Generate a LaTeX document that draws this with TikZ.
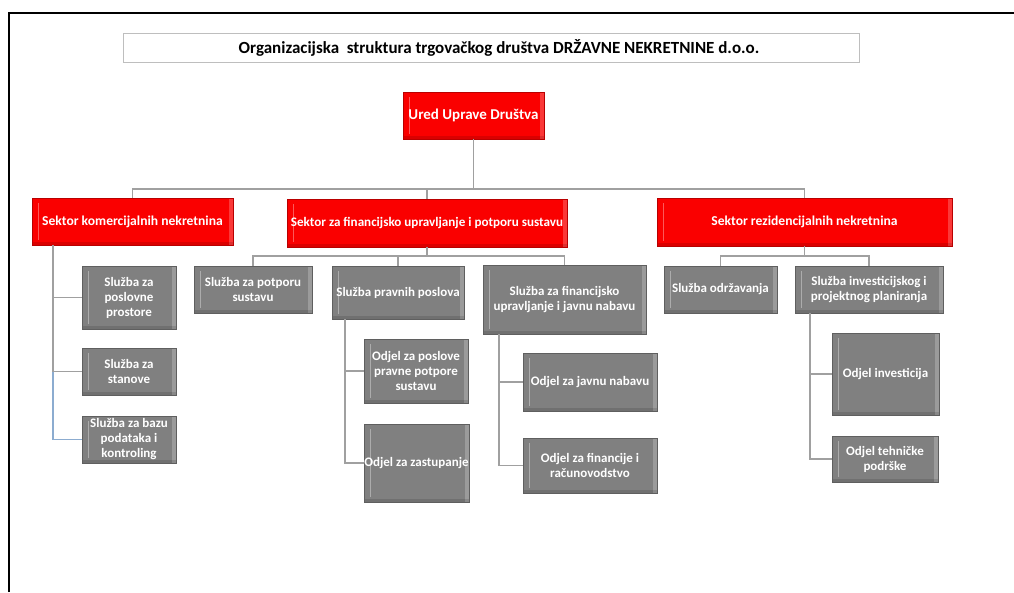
\documentclass[tikz,border=0pt]{standalone}
\usepackage{fontspec}
\setmainfont{Carlito}
\definecolor{boxgray}{RGB}{128,128,128}
\definecolor{boxedge}{RGB}{95,95,95}
\definecolor{boxred}{RGB}{250,0,0}
\definecolor{rededge}{RGB}{185,0,0}
\definecolor{conncol}{RGB}{160,160,160}
\definecolor{connblue}{RGB}{140,172,208}
\definecolor{titleedge}{RGB}{190,190,190}
\begin{document}
\begin{tikzpicture}[x=1pt,y=-1pt,
  bevel/.style={path picture={
    \draw[white,opacity=.35,line width=1pt]
      ([xshift=6pt,yshift=-5pt]path picture bounding box.north west) --
      ([xshift=6pt,yshift=5pt]path picture bounding box.south west);
    \fill[white,opacity=.22]
      ([xshift=-4pt]path picture bounding box.north east) rectangle
      (path picture bounding box.south east);
    \fill[black,opacity=.12]
      ([yshift=3pt]path picture bounding box.south west) rectangle
      (path picture bounding box.south east);
  }},
  graybox/.style={bevel,draw=boxedge,fill=boxgray,line width=0.8pt,inner sep=0pt,
    text=white,align=center,font=\bfseries\fontsize{13}{15}\selectfont},
  redbox/.style={bevel,draw=rededge,fill=boxred,line width=0.8pt,inner sep=0pt,
    text=white,align=center,font=\bfseries\fontsize{13.6}{15}\selectfont},
  conn/.style={draw=conncol,line width=1.2pt},
  connb/.style={draw=connblue,line width=1.2pt}]
\useasboundingbox (0,0) rectangle (1014,592);
\fill[white] (0,0) rectangle (1014,592);
\draw[black,line width=2pt] (9,592) -- (9,13) -- (1014,13);

% title
\node[draw=titleedge,fill=white,line width=0.8pt,minimum width=736pt,minimum height=29pt,inner sep=0pt,
  font=\bfseries\fontsize{17}{18}\selectfont] (title) at (491,47.5)
  {\hspace*{16pt}Organizacijska\ \ struktura trgovačkog društva DRŽAVNE NEKRETNINE d.o.o.};

% root
\node[redbox,minimum width=141pt,minimum height=47pt,font=\bfseries\fontsize{15}{17}\selectfont] (root) at (473.5,115.5) {Ured Uprave Društva};

% sectors
\node[redbox,minimum width=201pt,minimum height=47pt] (ks) at (132.5,221.5) {Sektor komercijalnih nekretnina};
\node[redbox,minimum width=280pt,minimum height=48pt,font=\bfseries\fontsize{13.1}{15}\selectfont] (fs) at (427,223) {Sektor za financijsko upravljanje i potporu sustavu};
\node[redbox,minimum width=295pt,minimum height=48pt] (rs) at (804.5,222) {Sektor rezidencijalnih nekretnina};

% left sector children
\node[graybox,minimum width=94pt,minimum height=63pt] (k1) at (129,297.5) {Služba za\\poslovne\\prostore};
\node[graybox,minimum width=94pt,minimum height=47pt] (k2) at (129,371.5) {Služba za\\stanove};
\node[graybox,minimum width=94pt,minimum height=47pt] (k3) at (129,439.5) {Služba za bazu\\podataka i\\kontroling};

% middle sector children
\node[graybox,minimum width=118pt,minimum height=47pt] (f1) at (253,289.5) {Služba za potporu\\sustavu};
\node[graybox,minimum width=132pt,minimum height=53pt] (f2) at (398,292.5) {Služba pravnih poslova};
\node[graybox,minimum width=163pt,minimum height=69pt] (f3) at (564.5,299.5) {Služba za financijsko\\upravljanje i javnu nabavu};
\node[graybox,minimum width=104pt,minimum height=64pt] (p1) at (416,371) {Odjel za poslove\\pravne potpore\\sustavu};
\node[graybox,minimum width=105pt,minimum height=78pt] (p2) at (416.5,463) {Odjel za zastupanje};
\node[graybox,minimum width=134pt,minimum height=58pt] (q1) at (590,382) {Odjel za javnu nabavu};
\node[graybox,minimum width=134pt,minimum height=55pt] (q2) at (590,465.5) {Odjel za financije i\\računovodstvo};

% right sector children
\node[graybox,minimum width=113pt,minimum height=47pt] (r1) at (720.5,289.5) {Služba održavanja};
\node[graybox,minimum width=148pt,minimum height=47pt] (r2) at (869,289.5) {Služba investicijskog i\\projektnog planiranja};
\node[graybox,minimum width=107pt,minimum height=82pt] (s1) at (885.5,374) {Odjel investicija};
\node[graybox,minimum width=106pt,minimum height=46pt] (s2) at (885,459) {Odjel tehničke\\podrške};

% bus coordinates
\coordinate (bus) at (473.5,189);
\coordinate (fbus) at (427,256);
\coordinate (rbus) at (804.5,256);
\coordinate (k0) at (53,245);
\coordinate (p0) at (345,319);
\coordinate (q0) at (499,334);
\coordinate (s0) at (810,313);

% connectors
\draw[conn] (root.south) -- (bus);
\draw[conn] (ks.north) |- (bus) -| (rs.north);
\draw[conn] (fs.north) -- (fs.north |- bus);
\draw[conn] (fs.south) -- (fbus);
\draw[conn] (f1.north) |- (fbus) -| (f3.north);
\draw[conn] (f2.north) -- (f2.north |- fbus);
\draw[conn] (rs.south) -- (rbus);
\draw[conn] (r1.north) |- (rbus) -| (r2.north);
\draw[connb] (k0) |- (k3.west);
\draw[conn] (k0) |- (k1.west);
\draw[conn] (k0) |- (k2.west);
\draw[conn] (p0) |- (p1.west);
\draw[conn] (p0) |- (p2.west);
\draw[conn] (q0) |- (q1.west);
\draw[conn] (q0) |- (q2.west);
\draw[conn] (s0) |- (s1.west);
\draw[conn] (s0) |- (s2.west);
\end{tikzpicture}
\end{document}
